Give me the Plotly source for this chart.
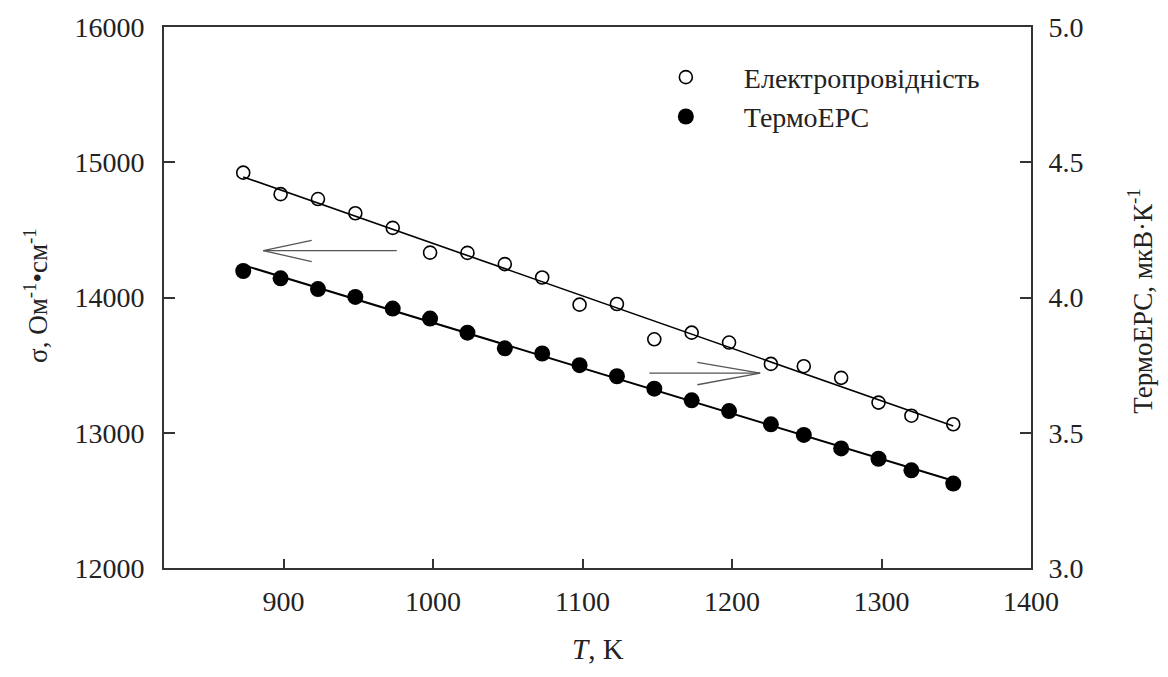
import numpy as np
import plotly.graph_objects as go

# ---- data ----
T_K = [873, 898, 923, 948, 973, 998, 1023, 1048, 1073, 1098,
       1123, 1148, 1173, 1198, 1226, 1248, 1273, 1298, 1320, 1348]
sigma = [14923, 14764, 14728, 14623, 14515, 14332, 14330, 14247, 14148, 13947,
         13952, 13691, 13740, 13667, 13509, 13492, 13406, 13223, 13126, 13063]
thermo_emf = [4.098, 4.071, 4.031, 4.002, 3.959, 3.922, 3.870, 3.812, 3.793, 3.750,
              3.709, 3.663, 3.620, 3.580, 3.531, 3.492, 3.442, 3.404, 3.361, 3.312]

x_ticks = [900, 1000, 1100, 1200, 1300, 1400]
y1_ticks = [12000, 13000, 14000, 15000, 16000]
y1_ticktext = ["12000", "13000", "14000", "15000", "16000"]
y2_ticks = [3.0, 3.5, 4.0, 4.5, 5.0]
y2_ticktext = ["3.0", "3.5", "4.0", "4.5", "5.0"]

name_sigma = "Електропровідність"
name_emf = "ТермоЕРС"

# linear fits
T_arr = np.array(T_K, dtype=float)
p1 = np.polyfit(T_arr, np.array(sigma, dtype=float), 1)
p2 = np.polyfit(T_arr, np.array(thermo_emf, dtype=float), 1)
T_fit = [T_K[0], T_K[-1]]
sigma_fit = list(np.polyval(p1, T_fit))
emf_fit = list(np.polyval(p2, T_fit))

FONT = "Liberation Serif, Times New Roman, serif"
AX = "#333333"

fig = go.Figure()
fig.add_trace(go.Scatter(x=T_fit, y=sigma_fit, mode="lines",
                         line=dict(color="black", width=1.6), showlegend=False, hoverinfo="skip"))
fig.add_trace(go.Scatter(x=T_fit, y=emf_fit, mode="lines", yaxis="y2",
                         line=dict(color="black", width=2), showlegend=False, hoverinfo="skip"))
fig.add_trace(go.Scatter(x=T_K, y=sigma, mode="markers", name=name_sigma,
                         marker=dict(symbol="circle-open", size=13, color="black",
                                     line=dict(width=1.6, color="black"))))
fig.add_trace(go.Scatter(x=T_K, y=thermo_emf, mode="markers", name=name_emf, yaxis="y2",
                         marker=dict(symbol="circle", size=16, color="black")))

# arrows (thin open V heads) indicating axis assignment
arrow_style = dict(color="#555555", width=1.3)
shapes = [
    # left-pointing arrow (σ -> left axis)
    dict(type="line", xref="x", yref="y", x0=975.7, y0=14347, x1=886.4, y1=14347, line=arrow_style),
    dict(type="line", xref="x", yref="y", x0=886.4, y0=14347, x1=918.8, y1=14423, line=arrow_style),
    dict(type="line", xref="x", yref="y", x0=886.4, y0=14347, x1=918.8, y1=14265, line=arrow_style),
    # right-pointing arrow (ТермоЕРС -> right axis)
    dict(type="line", xref="x", yref="y", x0=1144.7, y0=13441, x1=1218.8, y1=13441, line=arrow_style),
    dict(type="line", xref="x", yref="y", x0=1218.8, y0=13441, x1=1176.8, y1=13521, line=arrow_style),
    dict(type="line", xref="x", yref="y", x0=1218.8, y0=13441, x1=1176.8, y1=13355, line=arrow_style),
]

annotations = [
    dict(text="<i>T</i>, K", xref="paper", yref="paper", x=0.5, y=-0.150,
         xanchor="center", yanchor="middle",
         showarrow=False, font=dict(family=FONT, size=29, color="#222")),
    dict(text="σ, Ом<sup>-1</sup>•см<sup>-1</sup>", xref="paper", yref="paper",
         x=-0.1476, y=0.503, xanchor="center", yanchor="middle", textangle=-90, showarrow=False,
         font=dict(family=FONT, size=27, color="#222")),
    dict(text="ТермоЕРС, мкВ·К<sup>-1</sup>", xref="paper", yref="paper",
         x=1.1257, y=0.494, xanchor="center", yanchor="middle", textangle=-90, showarrow=False,
         font=dict(family=FONT, size=27, color="#222")),
]

tickfont = dict(family=FONT, size=28, color="#222")

fig.update_layout(
    width=1168, height=677,
    margin=dict(l=164, r=137, t=21, b=109),
    paper_bgcolor="white", plot_bgcolor="white",
    shapes=shapes, annotations=annotations,
    xaxis=dict(range=[820, 1400], tickvals=x_ticks, ticks="inside", ticklen=9, tickwidth=1.5,
               tickcolor=AX, showline=True, linewidth=2, linecolor=AX, mirror=True,
               showgrid=False, zeroline=False, tickfont=tickfont, ticklabelstandoff=7),
    yaxis=dict(range=[12000, 16000], tickvals=y1_ticks, ticktext=y1_ticktext, ticks="inside",
               ticklen=11, tickwidth=1.5,
               tickcolor=AX, showline=True, linewidth=2, linecolor=AX,
               showgrid=False, zeroline=False, tickfont=tickfont, ticklabelstandoff=12),
    yaxis2=dict(range=[3.0, 5.0], tickvals=y2_ticks, ticktext=y2_ticktext, overlaying="y",
                side="right", ticks="inside", ticklen=11, tickwidth=1.5, tickcolor=AX,
                showline=True, linewidth=2, linecolor=AX, showgrid=False, zeroline=False,
                tickfont=tickfont, ticklabelstandoff=10),
    legend=dict(x=0.535, y=0.953, xanchor="left", yanchor="top", bgcolor="rgba(0,0,0,0)",
                font=dict(family=FONT, size=28, color="#222"), itemwidth=106,
                tracegroupgap=0),
    showlegend=True,
)

fig.write_html("out.html")
